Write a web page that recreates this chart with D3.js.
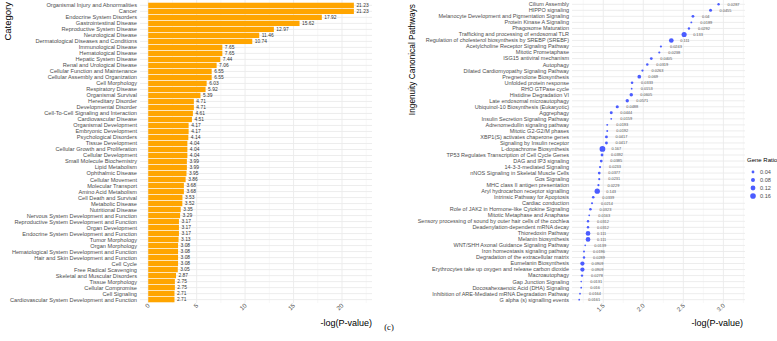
<!DOCTYPE html>
<html>
<head>
<meta charset="utf-8">
<script src="https://cdn.jsdelivr.net/npm/d3@7"></script>
<style>
  html, body { margin: 0; padding: 0; background: #fff; }
  svg { display: block; font-family: "Liberation Sans", Arial, sans-serif; }
</style>
</head>
<body>
<div id="chart"></div>
<script>
// Left panel: disease / function categories, -log(P-value)
const categories = [
  'Organismal Injury and Abnormalities', 'Cancer', 'Endocrine System Disorders',
  'Gastrointestinal Disease', 'Reproductive System Disease', 'Neurological Disease',
  'Dermatological Diseases and Conditions', 'Immunological Disease', 'Hematological Disease',
  'Hepatic System Disease', 'Renal and Urological Disease', 'Cellular Function and Maintenance',
  'Cellular Assembly and Organization', 'Cell Morphology', 'Respiratory Disease',
  'Organismal Survival', 'Hereditary Disorder', 'Developmental Disorder',
  'Cell-To-Cell Signaling and Interaction', 'Cardiovascular Disease', 'Organismal Development',
  'Embryonic Development', 'Psychological Disorders', 'Tissue Development',
  'Cellular Growth and Proliferation', 'Cellular Development', 'Small Molecule Biochemistry',
  'Lipid Metabolism', 'Ophthalmic Disease', 'Cellular Movement', 'Molecular Transport',
  'Amino Acid Metabolism', 'Cell Death and Survival', 'Metabolic Disease', 'Nutritional Disease',
  'Nervous System Development and Function', 'Reproductive System Development and Function',
  'Organ Development', 'Endocrine System Development and Function', 'Tumor Morphology',
  'Organ Morphology', 'Hematological System Development and Function',
  'Hair and Skin Development and Function', 'Cell Cycle', 'Free Radical Scavenging',
  'Skeletal and Muscular Disorders', 'Tissue Morphology', 'Cellular Compromise',
  'Cell Signaling', 'Cardiovascular System Development and Function'
];
const categoryLogP = [
  21.23, 21.23, 17.92, 15.62, 12.97, 11.46, 10.74, 7.65, 7.65, 7.44, 7.06, 6.55, 6.55, 6.03,
  5.92, 5.39, 4.71, 4.71, 4.61, 4.51, 4.17, 4.17, 4.14, 4.04, 4.04, 4.04, 3.99, 3.99, 3.95,
  3.86, 3.68, 3.68, 3.53, 3.52, 3.35, 3.29, 3.17, 3.17, 3.17, 3.13, 3.08, 3.08, 3.08, 3.08,
  3.05, 2.87, 2.75, 2.75, 2.71, 2.71
];
const leftTicks = [0, 5, 10, 15, 20];

// Right panel: canonical pathways, -log(P-value) and gene ratio
const pathways = [
  'Cilium Assembly', 'HIPPO signaling', 'Melanocyte Development and Pigmentation Signaling',
  'Protein Kinase A Signaling', 'Phagosome Maturation', 'Trafficking and processing of endosomal TLR',
  'Regulation of cholesterol biosynthesis by SREBP (SREBF)', 'Acetylcholine Receptor Signaling Pathway',
  'Mitotic Prometaphase', 'ISG15 antiviral mechanism', 'Autophagy',
  'Dilated Cardiomyopathy Signaling Pathway', 'Pregnenolone Biosynthesis', 'Unfolded protein response',
  'RHO GTPase cycle', 'Histidine Degradation VI', 'Late endosomal microautophagy',
  'Ubiquinol-10 Biosynthesis (Eukaryotic)', 'Aggrephagy', 'Insulin Secretion Signaling Pathway',
  'Adrenomedullin signaling pathway', 'Mitotic G2-G2/M phases', 'XBP1(S) activates chaperone genes',
  'Signaling by Insulin receptor', 'L-dopachrome Biosynthesis',
  'TP53 Regulates Transcription of Cell Cycle Genes', 'DAG and IP3 signaling',
  '14-3-3-mediated Signaling', 'nNOS Signaling in Skeletal Muscle Cells', 'Gαs Signaling',
  'MHC class II antigen presentation', 'Aryl hydrocarbon receptor signalling',
  'Intrinsic Pathway for Apoptosis', 'Cardiac conduction',
  'Role of JAK2 in Hormone-like Cytokine Signaling', 'Mitotic Metaphase and Anaphase',
  'Sensory processing of sound by outer hair cells of the cochlea',
  'Deadenylation-dependent mRNA decay', 'Thioredoxin Pathway', 'Melanin biosynthesis',
  'WNT/SHH Axonal Guidance Signaling Pathway', 'Iron homeostasis signaling pathway',
  'Degradation of the extracellular matrix', 'Eumelanin Biosynthesis',
  'Erythrocytes take up oxygen and release carbon dioxide', 'Macroautophagy',
  'Gap Junction Signaling', 'Docosahexaenoic Acid (DHA) Signaling',
  'Inhibition of ARE-Mediated mRNA Degradation Pathway', 'G alpha (s) signalling events'
];
const pathwayLogP = [
  2.94, 2.84, 2.62, 2.60, 2.57, 2.51, 2.35, 2.22, 2.20, 2.10, 2.05, 1.99, 1.95, 1.86, 1.855,
  1.85, 1.80, 1.675, 1.60, 1.60, 1.55, 1.55, 1.54, 1.54, 1.49, 1.485, 1.475, 1.46, 1.45, 1.45,
  1.44, 1.425, 1.375, 1.36, 1.34, 1.325, 1.31, 1.31, 1.31, 1.31, 1.275, 1.26, 1.26, 1.24, 1.24,
  1.235, 1.225, 1.225, 1.21, 1.20
];
const geneRatio = [
  '0.0287', '0.0455', '0.04', '0.0189', '0.0292', '0.133', '0.111', '0.0243', '0.0238', '0.0405',
  '0.0319', '0.0263', '0.069', '0.0333', '0.0153', '0.0605', '0.0571', '0.0488', '0.0444',
  '0.0159', '0.0193', '0.0192', '0.0417', '0.0417', '0.167', '0.0392', '0.0385', '0.0233',
  '0.0377', '0.0231', '0.0229', '0.143', '0.0339', '0.0214', '0.0323', '0.0163', '0.0312',
  '0.0312', '0.111', '0.111', '0.0139', '0.0196', '0.0289', '0.0909', '0.0909', '0.0278',
  '0.0131', '0.016', '0.0164', '0.0161'
];
const rightTicks = [1.5, 2.0, 2.5, 3.0];
const legendRatios = [0.04, 0.08, 0.12, 0.16];

const W = 777, H = 341;
const BAR = '#FFA500', DOT = '#4B5CFF';
const LABEL = '#4d4d4d', GRID = '#ebebeb', GRID_MINOR = '#f4f4f4';

const svg = d3.select('#chart').append('svg').attr('width', W).attr('height', H);

// shared: light theme_minimal grid for a panel
function gridlines(g, x, y, rows, major, minor, top, bottom) {
  minor.forEach((v) => g.append('line').attr('x1', x(v)).attr('x2', x(v))
    .attr('y1', top).attr('y2', bottom).attr('stroke', GRID_MINOR).attr('stroke-width', 0.6));
  major.forEach((v) => g.append('line').attr('x1', x(v)).attr('x2', x(v))
    .attr('y1', top).attr('y2', bottom).attr('stroke', GRID).attr('stroke-width', 0.9));
  rows.forEach((r) => g.append('line').attr('x1', x.range()[0]).attr('x2', x.range()[1])
    .attr('y1', y(r) + y.bandwidth() / 2).attr('y2', y(r) + y.bandwidth() / 2)
    .attr('stroke', GRID).attr('stroke-width', 0.9));
}

function xTickLabels(g, x, ticks, yPos, fmt) {
  g.selectAll('text.xt').data(ticks).join('text').attr('class', 'xt')
    .attr('transform', (d) => `translate(${x(d) + 2},${yPos}) rotate(-45)`)
    .attr('text-anchor', 'end').attr('font-size', 6.2).attr('fill', LABEL)
    .text(fmt);
}

// ---- Left panel: bars
const left = svg.append('g');
const lx = d3.scaleLinear().domain([-0.85, 23.1]).range([140, 372]);
const ly = d3.scaleBand().domain(categories).range([2, 303]).padding(0.12);

gridlines(left, lx, ly, categories, leftTicks, [2.5, 7.5, 12.5, 17.5, 22.5], 0, 303);

left.selectAll('rect.bar').data(categories).join('rect').attr('class', 'bar')
  .attr('x', lx(0)).attr('y', (d) => ly(d))
  .attr('width', (d, i) => lx(categoryLogP[i]) - lx(0)).attr('height', ly.bandwidth())
  .attr('fill', BAR);

left.selectAll('text.val').data(categories).join('text').attr('class', 'val')
  .attr('x', (d, i) => lx(categoryLogP[i]) + 2.5).attr('y', (d) => ly(d) + ly.bandwidth() / 2)
  .attr('dy', '0.35em').attr('font-size', 4.9).attr('fill', '#333')
  .text((d, i) => categoryLogP[i].toFixed(2));

left.selectAll('text.cat').data(categories).join('text').attr('class', 'cat')
  .attr('x', 137).attr('y', (d) => ly(d) + ly.bandwidth() / 2)
  .attr('dy', '0.35em').attr('text-anchor', 'end').attr('font-size', 5.65).attr('fill', LABEL)
  .text((d) => d);

xTickLabels(left, lx, leftTicks, 306, (d) => d);

left.append('text').attr('transform', 'translate(11,2) rotate(-90)')
  .attr('text-anchor', 'end').attr('font-size', 9.5).attr('fill', '#000').text('Category');
left.append('text').attr('x', 372).attr('y', 326).attr('text-anchor', 'end')
  .attr('font-size', 9).attr('fill', '#000').text('-log(P-value)');

// ---- Right panel: dots sized by gene ratio
const right = svg.append('g');
const rx = d3.scaleLinear().domain([1.11, 3.27]).range([572, 745]);
const ry = d3.scaleBand().domain(pathways).range([1, 303]).padding(0.1);
const r = d3.scaleSqrt().domain([0, 0.17]).range([0, 2.9]);

gridlines(right, rx, ry, pathways, rightTicks, [1.25, 1.75, 2.25, 2.75, 3.25], 0, 303);

right.selectAll('circle.dot').data(pathways).join('circle').attr('class', 'dot')
  .attr('cx', (d, i) => rx(pathwayLogP[i])).attr('cy', (d) => ry(d) + ry.bandwidth() / 2)
  .attr('r', (d, i) => r(+geneRatio[i])).attr('fill', DOT);

right.selectAll('text.val').data(pathways).join('text').attr('class', 'val')
  .attr('x', (d, i) => rx(pathwayLogP[i]) + 9).attr('y', (d) => ry(d) + ry.bandwidth() / 2)
  .attr('dy', '0.35em').attr('font-size', 3.9).attr('fill', '#555')
  .text((d, i) => geneRatio[i]);

right.selectAll('text.path').data(pathways).join('text').attr('class', 'path')
  .attr('x', 569).attr('y', (d) => ry(d) + ry.bandwidth() / 2)
  .attr('dy', '0.35em').attr('text-anchor', 'end').attr('font-size', 5.5).attr('fill', LABEL)
  .text((d) => d);

xTickLabels(right, rx, rightTicks, 306, (d) => d.toFixed(1));

right.append('text').attr('transform', 'translate(415,4) rotate(-90)')
  .attr('text-anchor', 'end').attr('font-size', 8.3).attr('fill', '#000')
  .text('Ingenuity Canonical Pathways');
right.append('text').attr('x', 743).attr('y', 326).attr('text-anchor', 'end')
  .attr('font-size', 9).attr('fill', '#000').text('-log(P-value)');

// legend
const lg = svg.append('g');
lg.append('text').attr('x', 747).attr('y', 162).attr('font-size', 6).attr('fill', '#000')
  .text('Gene Ratio');
legendRatios.forEach((v, i) => {
  const yy = 172 + i * 8;
  lg.append('circle').attr('cx', 753).attr('cy', yy).attr('r', r(v)).attr('fill', DOT);
  lg.append('text').attr('x', 760).attr('y', yy).attr('dy', '0.35em')
    .attr('font-size', 5.6).attr('fill', LABEL).text(v.toFixed(2));
});

// figure tag
svg.append('text').attr('x', 389).attr('y', 330).attr('text-anchor', 'middle')
  .attr('font-family', '"Liberation Serif", "Times New Roman", serif')
  .attr('font-size', 8.5).attr('fill', '#000').text('(c)');
</script>
</body>
</html>
